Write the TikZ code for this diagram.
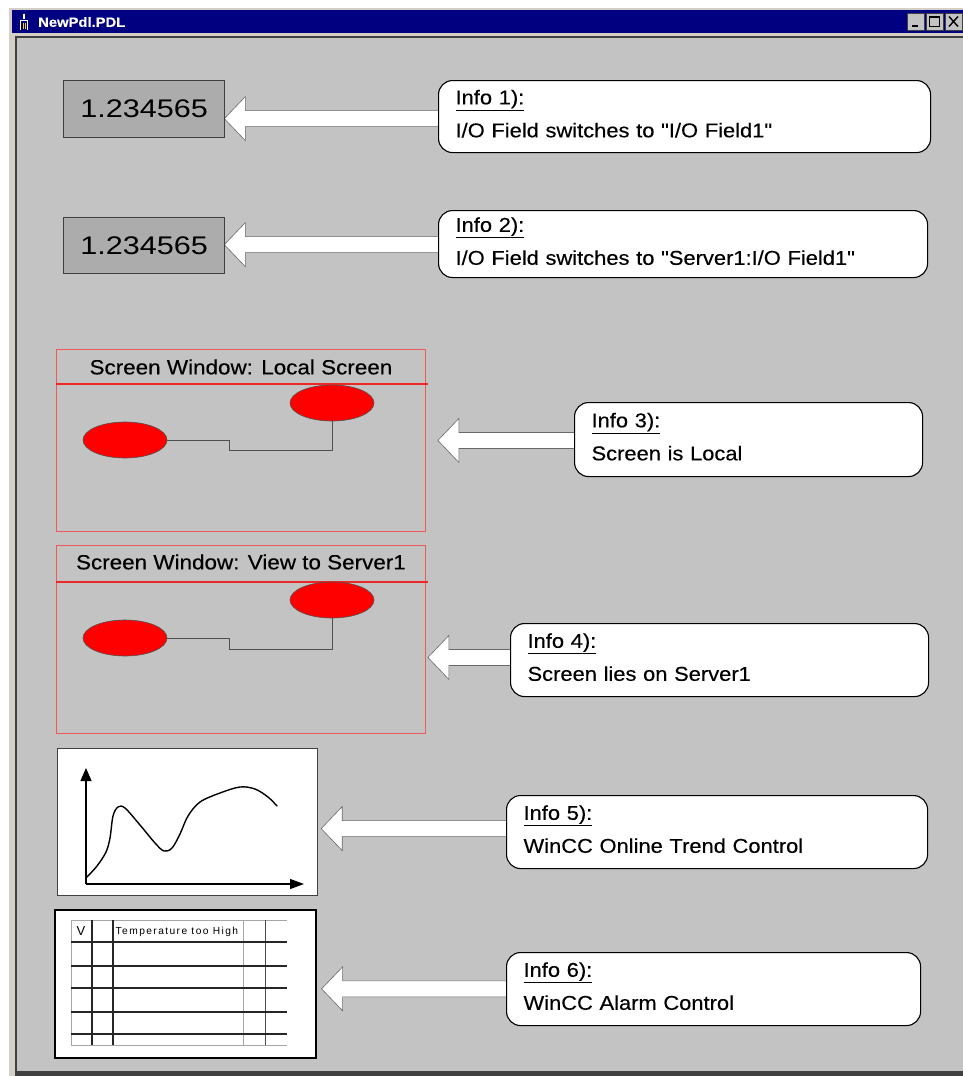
\documentclass[tikz,border=0pt]{standalone}
\usepackage{fontspec}
\setmainfont{Liberation Sans}
\newfontfamily\calfont[FakeStretch=1.095,FakeBold=0.3]{Liberation Sans}
\newfontfamily\iofont[FakeStretch=1.2]{Liberation Sans}
\newfontfamily\alarmfont[LetterSpace=14]{Liberation Sans}
\usetikzlibrary{calc,shapes.geometric,arrows.meta}
\pgfdeclarelayer{frame}
\pgfdeclarelayer{arrows}
\pgfsetlayers{frame,arrows,main}
\definecolor{winbg}{RGB}{195,195,195}
\definecolor{framegray}{RGB}{212,208,200}
\definecolor{titleblue}{RGB}{0,0,128}
\definecolor{winedge}{RGB}{64,64,64}
\definecolor{iofill}{RGB}{172,172,172}
\definecolor{swred}{RGB}{238,90,90}
\definecolor{divred}{RGB}{235,40,40}
\definecolor{blobred}{RGB}{255,0,0}
\definecolor{arrowedge}{RGB}{105,105,105}
\definecolor{wiregray}{RGB}{80,80,80}
\tikzset{
  iofield/.style={draw=winedge, line width=1.3, fill=iofill, anchor=north west,
    inner sep=0, font=\iofont\fontsize{25.5}{25.5}\selectfont},
  callout/.style={draw=black, line width=1.1, fill=white, rounded corners=14,
    anchor=north west, align=left, inner xsep=17, inner ysep=0,
    font=\calfont\fontsize{20}{33}\selectfont},
  blockarr/.style={fill=white, draw=arrowedge, line width=0.6, line join=miter},
  scrwin/.style={draw=swred, line width=0.9, anchor=north west, inner sep=0},
  swtitle/.style={font=\calfont\fontsize{20.5}{20.5}\selectfont, inner sep=0},
  blob/.style={ellipse, draw=wiregray, line width=0.6, fill=blobred,
    minimum width=84, minimum height=36, inner sep=0},
  wire/.style={draw=wiregray, line width=0.9},
  ctrlbox/.style={fill=white, anchor=north west, inner sep=0},
  winbtn/.style={fill=winbg, draw=winedge, line width=0.8, minimum width=17,
    minimum height=17, inner sep=0},
  tabdark/.style={draw=black!85, line width=1.1},
  tablight/.style={draw=black!35, line width=0.7},
}
\newcommand\blockarrow[2]{%
  \draw[blockarr] (#1) -- ++(21,-22) -- ++(0,14) -- ($(#2.west |- #1)+(4,-8)$)
    -- ++(0,16) -- ($(#1)+(21,8)$) -- ++(0,14) -- cycle;}
\newcommand\lift{\rule[-6pt]{0pt}{0pt}}
\begin{document}
\begin{tikzpicture}[x=1pt,y=-1pt]
\useasboundingbox (0,0) rectangle (963,1076);
% window frame
\begin{pgfonlayer}{frame}
\fill[white] (0,0) rectangle (963,1076);
\fill[framegray] (9,8) rectangle (963,1076);
\fill[titleblue] (12,10) rectangle (963,33);
\fill[winbg] (15,37) rectangle (963,1071);
\draw[winedge, line width=1.5] (15.75,1071) -- (15.75,36.75) -- (963,36.75);
\fill[winedge] (15,1071) rectangle (963,1076);
\end{pgfonlayer}
% title bar icon and text
\draw[white, line width=1.1] (24,13.5) -- (24,19);
\draw[white, line width=1.2] (20.5,30) -- (20.5,20.5) -- (27.5,20.5) -- (27.5,30);
\draw[yellow!70!orange, line width=0.8] (23,29) -- (23,23) (25,29) -- (25,23);
\node[anchor=west, white, inner sep=0, font=\calfont\bfseries\fontsize{13.5}{13.5}\selectfont] (title) at (38,22) {NewPdl.PDL};
% title bar buttons
\node[winbtn] (bmin) at (916,21.5) {};
\node[winbtn] (bmax) at (934.5,21.5) {};
\node[winbtn] (bclose) at (953.5,21.5) {};
\draw[black, line width=2] ($(bmin.south west)+(5,-4)$) -- ++(6,0);
\draw[black, line width=0.9] ($(bmax.center)+(-5,-5)$) rectangle ($(bmax.center)+(5,5)$);
\draw[black, line width=1.6] ($(bmax.center)+(-5,-4.5)$) -- ($(bmax.center)+(5,-4.5)$);
\draw[black, line width=1.4] ($(bclose.center)+(-4.5,-5)$) -- ($(bclose.center)+(4.5,5)$)
  ($(bclose.center)+(4.5,-5)$) -- ($(bclose.center)+(-4.5,5)$);

% I/O fields
\node[iofield, minimum width=161, minimum height=57] (io1) at (63,80) {1.234565};
\node[iofield, minimum width=161, minimum height=56] (io2) at (63,217) {1.234565};

% screen windows
\node[scrwin, minimum width=369, minimum height=182] (sw1) at (56,349) {};
\draw[divred, line width=1.1] ($(sw1.north west)+(0,35)$) -- ($(sw1.north east)+(2,35)$);
\node[swtitle] (sw1t) at ($(sw1.north)+(0,18)$) {Screen Window: Local Screen};
\node[blob] (e11) at (125,440) {};
\node[blob] (e12) at (332,403) {};
\draw[wire] (e11.east) -- ++(62,0) -- ++(0,10) -| (e12.south);

\node[scrwin, minimum width=369, minimum height=188] (sw2) at (56,545) {};
\draw[divred, line width=1.1] ($(sw2.north west)+(0,37)$) -- ($(sw2.north east)+(2,37)$);
\node[swtitle] (sw2t) at ($(sw2.north)+(0,17)$) {Screen Window: View to Server1};
\node[blob] (e21) at (125,638) {};
\node[blob] (e22) at (332,600) {};
\draw[wire] (e21.east) -- ++(62,0) -- ++(0,11) -| (e22.south);

% trend control
\node[ctrlbox, draw=winedge, line width=1.2, minimum width=260, minimum height=147] (trend) at (57,748) {};
\draw[black, line width=1.1, -{Triangle[length=13,width=11]}] (86,884) -- (86,768);
\draw[black, line width=1.1, -{Triangle[length=14,width=10]}] (86,884) -- (304,884);
\draw[black, line width=1.4, line cap=round] plot[smooth, tension=0.55] coordinates {
  (86,878) (97,866) (106,852) (110,838) (113,816) (118,807) (125,808) (140,825)
  (155,843) (164,851) (172,848) (180,834) (188,816) (200,802) (220,793) (240,787)
  (255,789) (268,797) (277,806)};

% alarm control
\node[ctrlbox, draw=black, line width=1.6, minimum width=261, minimum height=148] (alarm) at (54,909) {};
\draw[tablight] (71,920) -- (287,920) (71,1045) -- (287,1045) (71,920) -- (71,1045) (243,920) -- (243,1045);
\draw[tabdark] (92,920) -- (92,1045) (113,920) -- (113,1045);
\draw[draw=black!70, line width=1] (265,920) -- (265,1045);
\foreach \yy in {942,966,988,1012,1034} {\draw[tabdark] (71,\yy) -- (287,\yy);}
\node[inner sep=0, font=\fontsize{13}{13}\selectfont] (colv) at (81,931) {V};
\node[anchor=west, inner sep=0, font=\alarmfont\fontsize{10.2}{10.2}\selectfont] (alarmtxt) at (115.5,932) {Temperature too High};

% arrow tips
\coordinate (tip1) at ($(io1.east)+(-1,9.5)$);
\coordinate (tip2) at ($(io2.east)+(-1,-1)$);
\coordinate (tip3) at ($(sw1.east)+(12,0)$);
\coordinate (tip4) at ($(sw2.east)+(2,18)$);
\coordinate (tip5) at ($(trend.east)+(3,6.5)$);
\coordinate (tip6) at ($(alarm.east)+(5,5)$);

% callouts
\node[callout, text width=458, minimum height=72] (c1) at (438,80)
  {\underline{Info 1):}\\I/O Field switches to "I/O Field1"\lift};
\node[callout, text width=455, minimum height=67] (c2) at (438,210)
  {\underline{Info 2):}\\I/O Field switches to "Server1:I/O Field1"\lift};
\node[callout, text width=314, minimum height=74] (c3) at (574,402)
  {\underline{Info 3):}\\Screen is Local\lift};
\node[callout, text width=384, minimum height=73] (c4) at (510,623)
  {\underline{Info 4):}\\Screen lies on Server1\lift};
\node[callout, text width=387, minimum height=73] (c5) at (506,795)
  {\underline{Info 5):}\\WinCC Online Trend Control\lift};
\node[callout, text width=380, minimum height=73] (c6) at (506,952)
  {\underline{Info 6):}\\WinCC Alarm Control\lift};

% block arrows (on a layer below the callouts)
\begin{pgfonlayer}{arrows}
\blockarrow{tip1}{c1}
\blockarrow{tip2}{c2}
\blockarrow{tip3}{c3}
\blockarrow{tip4}{c4}
\blockarrow{tip5}{c5}
\blockarrow{tip6}{c6}
\end{pgfonlayer}
\end{tikzpicture}
\end{document}
